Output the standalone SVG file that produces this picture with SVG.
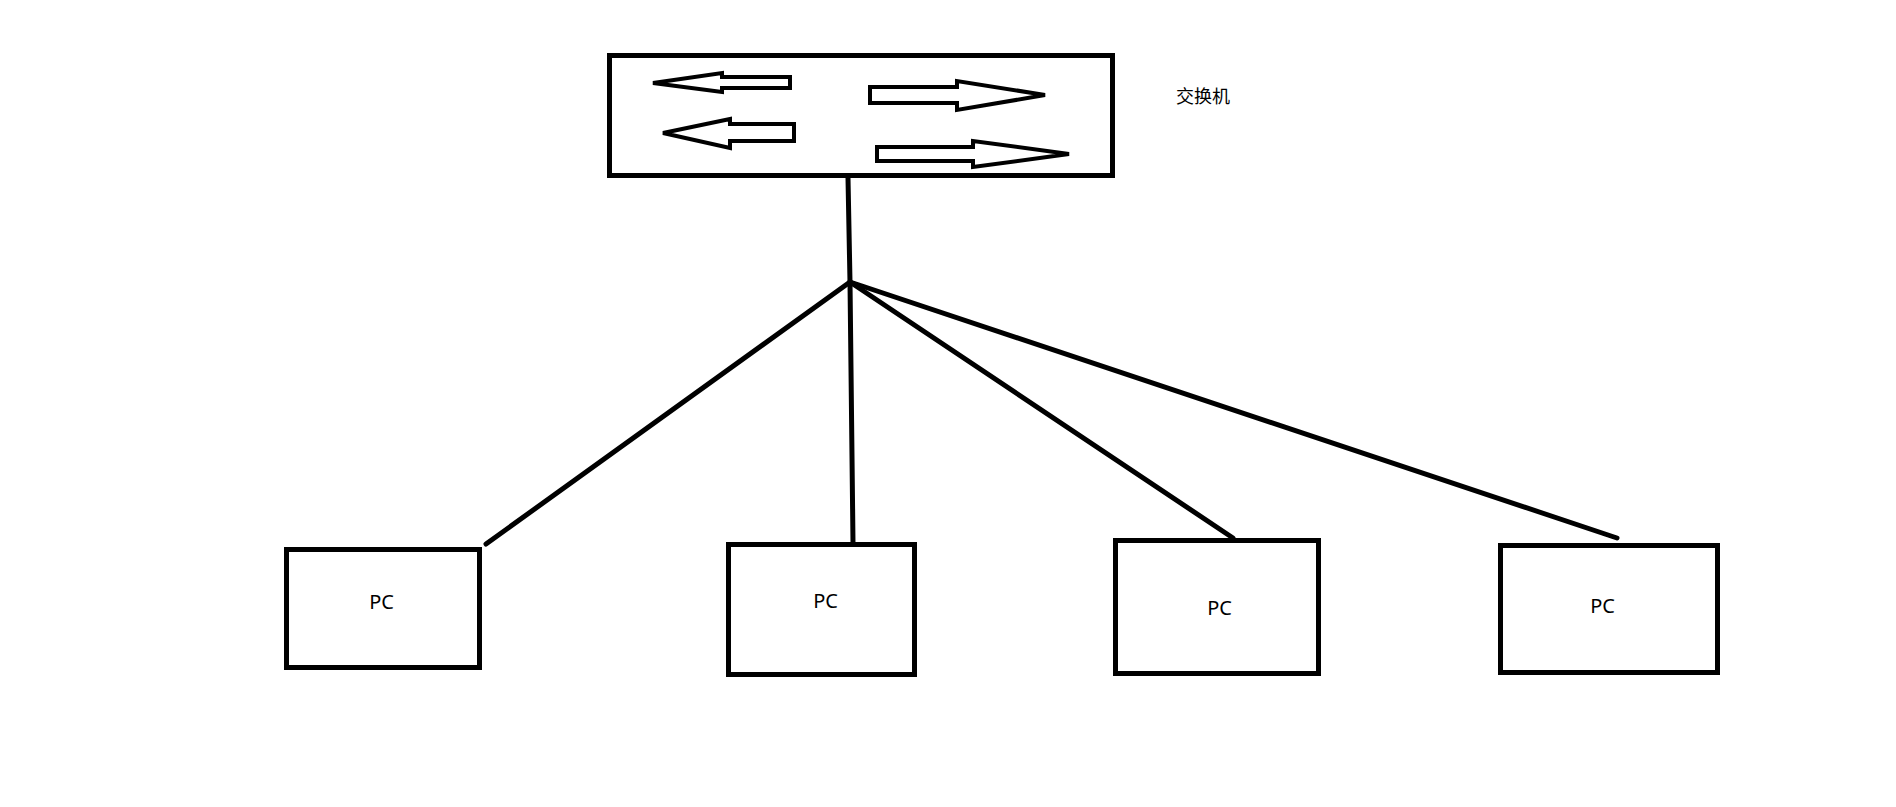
<svg xmlns="http://www.w3.org/2000/svg" width="1896" height="807" viewBox="0 0 1896 807">
<style>
.box{fill:#fff;stroke:#000;stroke-width:5}
.arr{fill:#fff;stroke:#000;stroke-width:4;stroke-linejoin:miter}
.wire{stroke:#000;stroke-width:5;stroke-linecap:round;fill:none}
.lbl{font-family:"Noto Sans","Liberation Sans",sans-serif;font-size:20px;fill:#000}
.cjk{font-family:"Noto Sans CJK SC",sans-serif;font-size:18px;fill:#000}
</style>
<rect width="1896" height="807" fill="#fff"/>
<g id="connectors">
<line class="wire" x1="848" y1="178" x2="850" y2="282"/>
<line class="wire" x1="850" y1="282" x2="486" y2="544"/>
<line class="wire" x1="850" y1="282" x2="853" y2="543"/>
<line class="wire" x1="850" y1="282" x2="1233" y2="538"/>
<line class="wire" x1="850" y1="282" x2="1617" y2="538"/>
</g>
<g id="switch">
<rect class="box" x="609.5" y="55.5" width="503" height="120"/>
<polygon class="arr" points="653,83 722,73 722,77 790,77 790,88 722,88 722,92"/>
<polygon class="arr" points="663,133 730,119 730,124 794,124 794,141 730,141 730,148"/>
<polygon class="arr" points="870,87 957,87 957,81 1045,95 957,110 957,103 870,103"/>
<polygon class="arr" points="877,147 973,147 973,141 1069,154 973,167 973,161 877,161"/>
</g>
<g id="switch-label">
<text class="cjk" x="1176" y="103">交换机</text>
</g>
<g id="pc1">
<rect class="box" x="286.5" y="549.5" width="193" height="118"/>
<text class="lbl" x="381.5" y="609" text-anchor="middle">PC</text>
</g>
<g id="pc2">
<rect class="box" x="728.5" y="544.5" width="186" height="130"/>
<text class="lbl" x="825.5" y="608" text-anchor="middle">PC</text>
</g>
<g id="pc3">
<rect class="box" x="1115.5" y="540.5" width="203" height="133"/>
<text class="lbl" x="1219.5" y="615" text-anchor="middle">PC</text>
</g>
<g id="pc4">
<rect class="box" x="1500.5" y="545.5" width="217" height="127"/>
<text class="lbl" x="1602.5" y="613" text-anchor="middle">PC</text>
</g>
</svg>
